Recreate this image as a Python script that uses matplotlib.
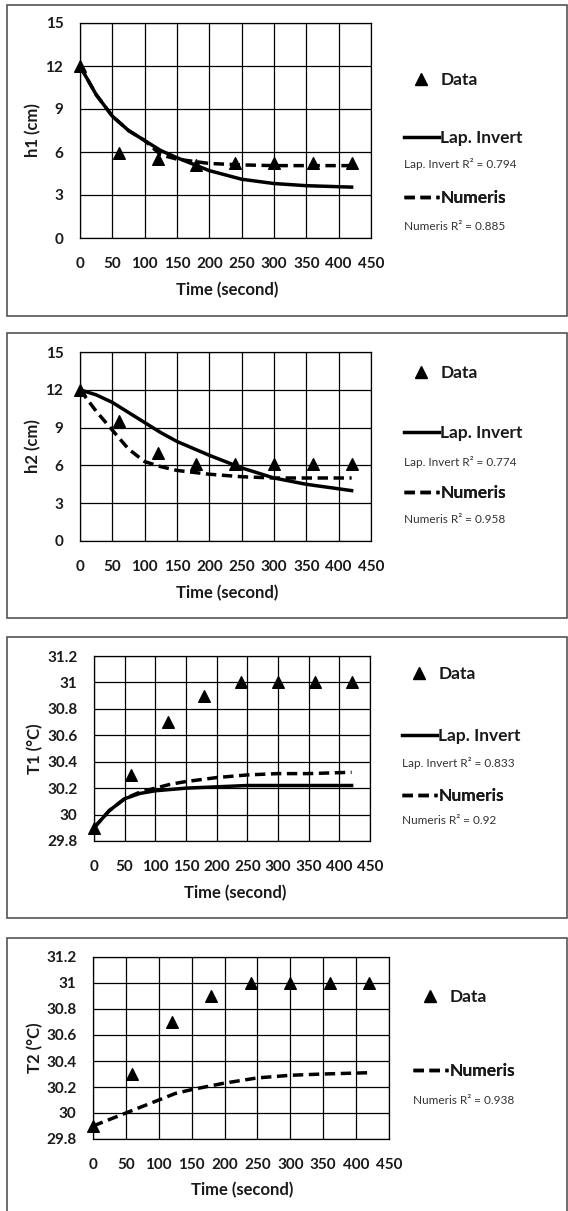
import matplotlib
matplotlib.use("Agg")
import matplotlib.pyplot as plt
from matplotlib.lines import Line2D
from matplotlib.patches import Rectangle

plt.rcParams['font.family'] = ['Lato', 'DejaVu Sans']

W, H = 568, 1211

#%% Data
t_data = [0, 60, 120, 180, 240, 300, 360, 420]
t_model = [0, 25, 50, 75, 100, 125, 150, 200, 250, 300, 350, 420]

h1_data = [12, 5.9, 5.5, 5.1, 5.2, 5.2, 5.2, 5.2]
h1_lap = [12, 10.0, 8.5, 7.5, 6.8, 6.1, 5.6, 4.7, 4.1, 3.8, 3.65, 3.55]
h1_num = [12, 10.0, 8.5, 7.5, 6.8, 5.8, 5.5, 5.2, 5.1, 5.05, 5.05, 5.05]

h2_data = [12, 9.5, 7.0, 6.1, 6.1, 6.1, 6.1, 6.1]
h2_lap = [12, 11.6, 11.0, 10.2, 9.4, 8.6, 7.9, 6.8, 5.8, 5.0, 4.5, 4.0]
h2_num = [12, 10.3, 8.8, 7.3, 6.3, 5.9, 5.6, 5.3, 5.1, 5.0, 5.0, 5.0]

T1_data = [29.9, 30.3, 30.7, 30.9, 31.0, 31.0, 31.0, 31.0]
T1_lap = [29.9, 30.03, 30.12, 30.16, 30.18, 30.19, 30.20, 30.21, 30.22, 30.22, 30.22, 30.22]
T1_num = [29.9, 30.03, 30.12, 30.17, 30.20, 30.23, 30.25, 30.28, 30.30, 30.31, 30.31, 30.32]

T2_data = [29.9, 30.3, 30.7, 30.9, 31.0, 31.0, 31.0, 31.0]
T2_num = [29.9, 29.95, 30.0, 30.05, 30.1, 30.15, 30.18, 30.23, 30.27, 30.29, 30.30, 30.31]

panels = [
    dict(ylabel="h1 (cm)", data=h1_data, lap=h1_lap, num=h1_num,
         r2_lap="0.794", r2_num="0.885", ylim=(0, 15), yticks=[0, 3, 6, 9, 12, 15],
         ylabels=["0", "3", "6", "9", "12", "15"],
         box=(7, 5, 567, 316), ax=(80, 23, 371, 238), ylab_x=33, xlab=(227, 290),
         leg_x=404, leg_y=[80, 138, 164, 198, 226]),
    dict(ylabel="h2 (cm)", data=h2_data, lap=h2_lap, num=h2_num,
         r2_lap="0.774", r2_num="0.958", ylim=(0, 15), yticks=[0, 3, 6, 9, 12, 15],
         ylabels=["0", "3", "6", "9", "12", "15"],
         box=(7, 333, 567, 618), ax=(80, 352, 371, 541), ylab_x=33, xlab=(227, 593),
         leg_x=404, leg_y=[373, 433, 462, 493, 520]),
    dict(ylabel="T1 (°C)", data=T1_data, lap=T1_lap, num=T1_num,
         r2_lap="0.833", r2_num="0.92", ylim=(29.8, 31.2),
         yticks=[29.8, 30, 30.2, 30.4, 30.6, 30.8, 31, 31.2],
         ylabels=["29.8", "30", "30.2", "30.4", "30.6", "30.8", "31", "31.2"],
         box=(7, 637, 567, 918), ax=(94, 656, 370, 841), ylab_x=35, xlab=(235, 893),
         leg_x=402, leg_y=[674, 736, 763, 796, 821]),
    dict(ylabel="T2 (°C)", data=T2_data, lap=None, num=T2_num,
         r2_lap=None, r2_num="0.938", ylim=(29.8, 31.2),
         yticks=[29.8, 30, 30.2, 30.4, 30.6, 30.8, 31, 31.2],
         ylabels=["29.8", "30", "30.2", "30.4", "30.6", "30.8", "31", "31.2"],
         box=(7, 938, 567, 1215), ax=(93, 957, 389, 1139), ylab_x=35, xlab=(242, 1190),
         leg_x=413, leg_y=[997, None, None, 1071, 1100]),
]

xticks = [0, 50, 100, 150, 200, 250, 300, 350, 400, 450]

fig = plt.figure(figsize=(W / 100, H / 100), dpi=100)
fig.patch.set_facecolor("white")

def fx(x):
    return x / W

def fy(y):
    return 1 - y / H

txt = "#1a1a1a"

for p in panels:
    # panel frame
    x0, y0, x1, y1 = p["box"]
    fig.add_artist(Rectangle((fx(x0), fy(y1)), fx(x1 - x0), (y1 - y0) / H,
                             transform=fig.transFigure, fill=False,
                             edgecolor="#555555", lw=1.2))

    l, t, r, b = p["ax"]
    ax = fig.add_axes([fx(l), fy(b), fx(r - l), (b - t) / H])
    ax.scatter(t_data, p["data"], marker="^", s=70, color="black", zorder=5,
               clip_on=False, label="Data")
    if p["lap"] is not None:
        ax.plot(t_model, p["lap"], color="black", lw=2.5, zorder=4, label="Lap. Invert")
    ax.plot(t_model, p["num"], color="black", lw=2.5, ls=(0, (3, 1.6)), zorder=4, label="Numeris")

    ax.set_xlim(0, 450)
    ax.set_ylim(*p["ylim"])
    ax.set_xticks(xticks)
    ax.set_xticklabels([str(v) for v in xticks])
    ax.set_yticks(p["yticks"])
    ax.set_yticklabels(p["ylabels"])
    ax.grid(True, color="black", lw=0.9)
    ax.set_axisbelow(True)
    for s in ax.spines.values():
        s.set_color("black")
        s.set_linewidth(0.9)
    ax.tick_params(length=0, labelsize=11, colors=txt)
    ax.tick_params(axis="x", pad=14)
    ax.tick_params(axis="y", pad=12)
    for lab in ax.get_xticklabels() + ax.get_yticklabels():
        lab.set_fontweight("bold")

    fig.text(fx(p["ylab_x"]), fy((t + b) / 2), p["ylabel"], rotation=90, ha="center",
             va="center", fontsize=12, fontweight="bold", color=txt)
    fig.text(fx(p["xlab"][0]), fy(p["xlab"][1]), "Time (second)", ha="center",
             va="center", fontsize=12, fontweight="bold", color=txt)

    # legend entries, one per row
    lx = fx(p["leg_x"])
    ly = p["leg_y"]
    entries = [(Line2D([], [], marker="^", ls="none", color="black", markersize=9), "Data", ly[0])]
    if p["lap"] is not None:
        entries.append((Line2D([], [], color="black", lw=2.5), "Lap. Invert", ly[1]))
    entries.append((Line2D([], [], color="black", lw=2.5, ls=(0, (3, 1.6))), "Numeris", ly[3]))
    for h, lab, yy in entries:
        leg = ax.legend([h], [lab], loc="center left", bbox_to_anchor=(lx, fy(yy)),
                        bbox_transform=fig.transFigure, frameon=False, borderpad=0,
                        borderaxespad=0, handlelength=2.0, handletextpad=0.1,
                        prop=dict(weight="bold", size=12.5))
        for tx in leg.get_texts():
            tx.set_color(txt)
        ax.add_artist(leg)
    if p["r2_lap"] is not None:
        fig.text(lx, fy(ly[2]), "Lap. Invert R² = " + p["r2_lap"], ha="left", va="center",
                 fontsize=8.5, color="#333333")
    fig.text(lx, fy(ly[4]), "Numeris R² = " + p["r2_num"], ha="left", va="center",
             fontsize=8.5, color="#333333")

fig.savefig("out.png", dpi=100)
